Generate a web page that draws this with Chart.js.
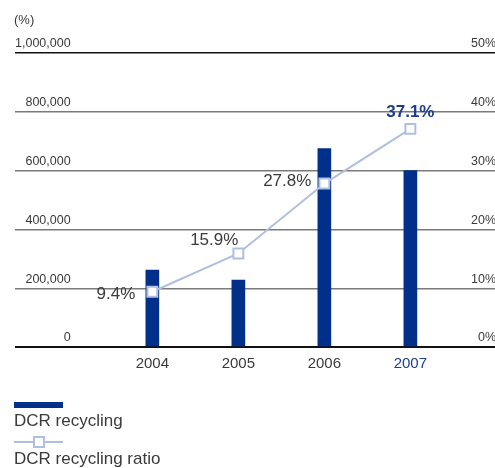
<!DOCTYPE html>
<html>
<head>
<meta charset="utf-8">
<script src="https://cdn.jsdelivr.net/npm/chart.js@4/dist/chart.umd.min.js"></script>
<style>
  html, body { margin: 0; padding: 0; background: #fff; }
  canvas { display: block; }
</style>
</head>
<body>
<canvas id="c" width="495" height="468"></canvas>
<script>
// Fiscal years on the horizontal axis
const years = [2004, 2005, 2006, 2007];
// DCR recycling volume (left axis)
const recycling = [262000, 228000, 675000, 600000];
// DCR recycling ratio, % (right axis)
const ratio = [9.4, 15.9, 27.8, 37.1];
// Axis tick values
const leftTicks = [0, 200000, 400000, 600000, 800000, 1000000];
const rightTicks = [0, 10, 20, 30, 40, 50];
const seriesNames = ['DCR recycling', 'DCR recycling ratio'];

const NAVY = '#00308a';
const LIGHT = '#b0bfe0';
const TEXT = '#3a3a3a';
const FONT = '"Liberation Sans", Arial, sans-serif';

// where each ratio label sits relative to its point: [dx, dy, align, highlight]
const ratioLabelPlacement = [
  [-17, 3, 'right', false],
  [0, -13, 'right', false],
  [-13, -2, 'right', false],
  [0, -17, 'center', true]
];

const extras = {
  id: 'extras',
  afterDatasetsDraw(chart) {
    const ctx = chart.ctx;
    const meta = chart.getDatasetMeta(1);
    ctx.save();
    ctx.textBaseline = 'middle';
    meta.data.forEach((pt, i) => {
      const [dx, dy, align, hi] = ratioLabelPlacement[i];
      ctx.font = (hi ? 'bold ' : '') + '17px ' + FONT;
      ctx.fillStyle = hi ? '#1d3d91' : TEXT;
      ctx.textAlign = align;
      ctx.fillText(ratio[i].toFixed(1) + '%', pt.x + dx, pt.y + dy);
    });
    ctx.restore();
  },
  afterDraw(chart) {
    const ctx = chart.ctx;
    ctx.save();
    // unit caption
    ctx.font = '13px ' + FONT;
    ctx.fillStyle = TEXT;
    ctx.textAlign = 'left';
    ctx.textBaseline = 'middle';
    ctx.fillText('(%)', 14, 20);

    // legend
    ctx.fillStyle = NAVY;
    ctx.fillRect(14, 402, 49, 6);
    ctx.font = '17px ' + FONT;
    ctx.fillStyle = TEXT;
    ctx.fillText(chart.data.datasets[0].label, 14, 421);

    ctx.strokeStyle = LIGHT;
    ctx.lineWidth = 2;
    ctx.beginPath();
    ctx.moveTo(14, 442);
    ctx.lineTo(63, 442);
    ctx.stroke();
    ctx.fillStyle = '#fff';
    ctx.fillRect(34, 437, 10, 10);
    ctx.strokeRect(34, 437, 10, 10);
    ctx.fillStyle = TEXT;
    ctx.fillText(chart.data.datasets[1].label, 14, 459);
    ctx.restore();
  }
};

new Chart(document.getElementById('c'), {
  data: {
    datasets: [
      {
        type: 'bar',
        label: seriesNames[0],
        data: years.map((y, i) => ({ x: y, y: recycling[i] })),
        backgroundColor: NAVY,
        barThickness: 13,
        yAxisID: 'y',
        order: 2
      },
      {
        type: 'line',
        label: seriesNames[1],
        data: years.map((y, i) => ({ x: y, y: ratio[i] })),
        borderColor: LIGHT,
        borderWidth: 2,
        tension: 0,
        pointStyle: 'rect',
        pointRadius: 7,
        pointBorderWidth: 2,
        pointBackgroundColor: '#fff',
        pointBorderColor: LIGHT,
        yAxisID: 'y1',
        order: 1
      }
    ]
  },
  options: {
    responsive: false,
    animation: false,
    layout: { autoPadding: false, padding: { top: 53, left: 15, right: 0, bottom: 95 } },
    plugins: {
      legend: { display: false },
      tooltip: { enabled: false }
    },
    scales: {
      x: {
        type: 'linear',
        offset: false,
        min: 2002.403,
        max: 2007.984,
        afterBuildTicks(scale) { scale.ticks = years.map(v => ({ value: v })); },
        afterFit(scale) { scale.height = 26; },
        grid: { display: false, offset: false, drawTicks: false, tickLength: 0 },
        border: { display: false },
        ticks: {
          padding: 8,
          font: { family: FONT, size: 15 },
          color: (c) => c.tick && c.tick.value === 2007 ? '#1d3d91' : TEXT,
          callback: (v) => String(v)
        }
      },
      y: {
        position: 'left',
        min: 0,
        max: 1000000,
        afterBuildTicks(scale) { scale.ticks = leftTicks.map(v => ({ value: v })); },
        afterFit(scale) { scale.width = 0; },
        border: { display: false },
        grid: {
          drawTicks: false,
          tickLength: 0,
          color: (c) => (c.tick.value === 0 || c.tick.value === 1000000) ? '#111' : '#7a7a7a',
          lineWidth: (c) => c.tick.value === 0 ? 2 : 1.4
        },
        ticks: {
          mirror: true,
          crossAlign: 'far',
          padding: 0,
          labelOffset: -9,
          font: { family: FONT, size: 12.5 },
          color: TEXT,
          callback: (v) => Number(v).toLocaleString('en-US')
        }
      },
      y1: {
        position: 'right',
        min: 0,
        max: 50,
        afterBuildTicks(scale) { scale.ticks = rightTicks.map(v => ({ value: v })); },
        afterFit(scale) { scale.width = 0; },
        border: { display: false },
        grid: { display: false, drawTicks: false, tickLength: 0 },
        ticks: {
          mirror: true,
          padding: 1,
          labelOffset: -9,
          font: { family: FONT, size: 12.5 },
          color: TEXT,
          callback: (v) => v + '%'
        }
      }
    }
  },
  plugins: [extras]
});
</script>
</body>
</html>
